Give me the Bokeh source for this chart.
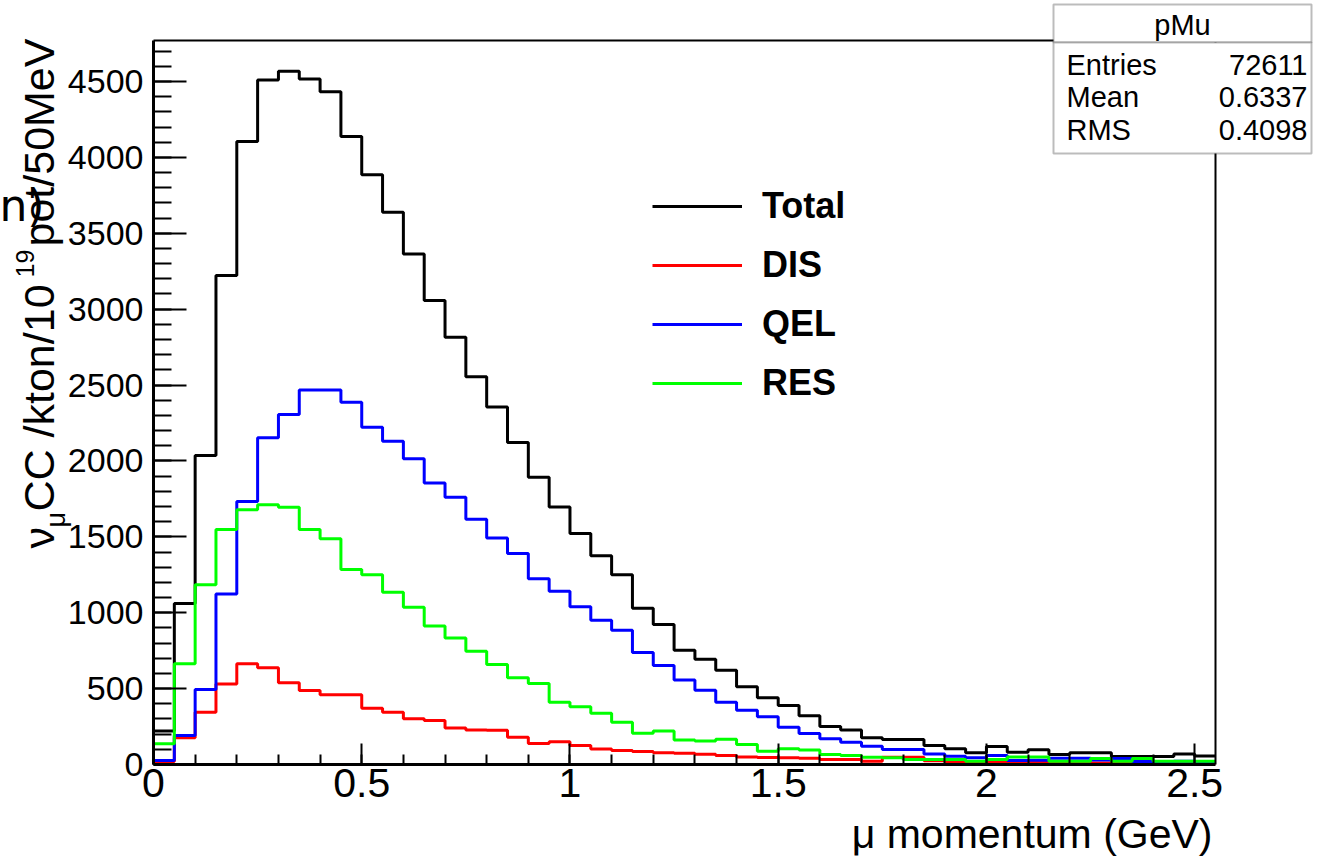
import math
from bokeh.plotting import figure
from bokeh.models import FixedTicker, Label, Legend, LegendItem, PolyAnnotation, Range1d, LinearAxis
from bokeh.embed import file_html
from bokeh.resources import INLINE

# ---------------- data (50 MeV bins, 0 .. 2.55 GeV) ----------------
bin_width = 0.05
n_bins = 51

total = [220, 1060, 2035, 3221, 4104, 4510, 4567, 4517, 4433, 4137,
         3885, 3639, 3364, 3057, 2815, 2555, 2356, 2121, 1893, 1697,
         1522, 1376, 1250, 1030, 922, 752, 694, 621, 513, 439,
         389, 322, 250, 228, 176, 165, 165, 125, 103, 77,
         118, 81, 97, 66, 77, 77, 53, 53, 53, 70, 56]

dis = [20, 176, 345, 531, 663, 637, 538, 487, 459, 459,
       371, 345, 301, 290, 240, 228, 225, 180, 138, 150,
       125, 102, 92, 86, 78, 74, 68, 60, 50, 46,
       44, 42, 33, 33, 22, 48, 48, 25, 20, 20,
       18, 16, 16, 12, 12, 10, 16, 8, 8, 8, 8]

qel = [26, 191, 494, 1124, 1733, 2152, 2306, 2468, 2468, 2387,
       2222, 2130, 2014, 1855, 1761, 1615, 1493, 1390, 1223, 1142,
       1039, 951, 884, 738, 653, 556, 489, 410, 357, 315,
       245, 205, 169, 147, 121, 99, 99, 70, 55, 44,
       59, 26, 28, 42, 42, 30, 40, 20, 18, 22, 15]

res = [136, 663, 1184, 1548, 1678, 1711, 1695, 1548, 1487, 1285,
       1250, 1135, 1036, 912, 834, 746, 659, 571, 533, 410,
       381, 337, 279, 206, 220, 161, 155, 167, 132, 88,
       103, 95, 66, 59, 48, 44, 33, 33, 33, 22,
       33, 50, 50, 22, 22, 40, 22, 40, 22, 22, 22]

series_names = ["Total", "DIS", "QEL", "RES"]
series_colors = ["#000000", "#ff0000", "#0000ff", "#00ff00"]

x_ticks = [0, 0.5, 1, 1.5, 2, 2.5]
x_tick_labels = ["0", "0.5", "1", "1.5", "2", "2.5"]
y_ticks = [0, 500, 1000, 1500, 2000, 2500, 3000, 3500, 4000, 4500]
y_tick_labels = ["0", "500", "1000", "1500", "2000", "2500", "3000", "3500", "4000", "4500"]

stats_title = "pMu"
stats_names = ["Entries", "Mean", "RMS"]
stats_values = ["72611", "0.6337", "0.4098"]

# ---------------- layout ----------------
W, H = 1325, 861
FL, FR, FT, FB = 153, 1215, 40, 764          # axis box edges in pixels
XMAX = 2.55
YMAX = 4770
XS = XMAX / (FR - FL)        # data per pixel
YS = YMAX / (FB - FT)

def X(px):
    return (px - FL) * XS

def Y(py):
    return (FB - py) * YS

FONT = "Liberation Sans"

# the plot frame spans the whole canvas; axes are pinned at data locations
p = figure(width=W, height=H,
           x_range=Range1d(X(0), X(W)), y_range=Range1d(Y(H), Y(0)),
           output_backend="svg", toolbar_location=None,
           min_border=0, min_border_left=0, min_border_right=0,
           min_border_top=0, min_border_bottom=0)
p.xgrid.visible = False
p.ygrid.visible = False
p.outline_line_color = None
p.background_fill_color = "white"
p.border_fill_color = "white"

edges = [round(i * bin_width, 4) for i in range(n_bins + 1)]
renderers = []
for vals, col in zip([total, dis, qel, res], series_colors):
    r = p.step(x=edges, y=list(vals) + [vals[-1]], mode="after",
               line_color=col, line_width=3)
    renderers.append(r)

# x axis
xa = p.xaxis[0]
xa.fixed_location = 0
xa.bounds = (0, XMAX)
xa.ticker = FixedTicker(ticks=x_ticks,
                        minor_ticks=[round(i * 0.1, 2) for i in range(26)])
xa.major_label_overrides = {t: l for t, l in zip(x_ticks, x_tick_labels)}
xa.major_tick_in = 21
xa.major_tick_out = 0
xa.minor_tick_in = 10
xa.minor_tick_out = 0
xa.axis_line_width = 3
xa.major_tick_line_width = 2
xa.minor_tick_line_width = 2
xa.major_label_text_font = FONT
xa.major_label_text_font_size = "41px"
xa.major_label_text_color = "black"
xa.major_label_standoff = 4

# y axis
ya = p.yaxis[0]
ya.fixed_location = 0
ya.bounds = (0, YMAX)
ya.ticker = FixedTicker(ticks=y_ticks, minor_ticks=list(range(0, 4800, 100)))
ya.major_label_overrides = {t: l for t, l in zip(y_ticks, y_tick_labels)}
ya.major_tick_in = 33
ya.major_tick_out = 0
ya.minor_tick_in = 18
ya.minor_tick_out = 0
ya.axis_line_width = 3
ya.major_tick_line_width = 2
ya.minor_tick_line_width = 2
ya.major_label_text_font = FONT
ya.major_label_text_font_size = "34px"
ya.major_label_text_color = "black"
ya.major_label_standoff = 10

# top and right frame lines
for loc, fixed, bnds in [("above", YMAX, (0, XMAX)), ("right", XMAX, (0, YMAX))]:
    ax = LinearAxis(fixed_location=fixed, bounds=bnds, ticker=FixedTicker(ticks=[]),
                    major_tick_in=0, major_tick_out=0, minor_tick_in=0, minor_tick_out=0,
                    major_label_text_font_size="0px", axis_line_width=2,
                    axis_line_color="black")
    p.add_layout(ax, loc)

# legend
legend = Legend(items=[LegendItem(label=n, renderers=[r]) for n, r in zip(series_names, renderers)],
                location=(652, H - 404), orientation="vertical",
                glyph_width=90, glyph_height=40, label_height=40, spacing=17,
                padding=0, margin=0, label_standoff=20,
                border_line_color=None, background_fill_alpha=0,
                label_text_font=FONT, label_text_font_style="bold",
                label_text_font_size="36px", label_text_color="black")
p.add_layout(legend)

# x axis title (right aligned, cap-middle at y=833)
p.add_layout(Label(x=X(1212), y=Y(833), text="μ momentum (GeV)", text_align="right",
                   text_baseline="middle", text_font=FONT, text_font_size="41px",
                   text_color="black"))

# y axis title (rotated, with sub/superscripts); first number = x of text middle
rot = math.pi / 2
for txt, mid_px, start_py, size in [("ν", 38, 548, "43px"),
                                    ("μ", 55, 527, "27px"),
                                    ("CC /kton/10", 38, 511, "43px"),
                                    ("19", 24, 277, "25px"),
                                    ("pot/50MeV", 38, 246, "43px")]:
    p.add_layout(Label(x=X(mid_px), y=Y(start_py), text=txt, angle=rot,
                       text_align="left", text_baseline="middle",
                       text_font=FONT, text_font_size=size, text_color="black"))

# stray fragment at left edge
p.add_layout(Label(x=X(44), y=Y(205), text="n)", text_align="right",
                   text_baseline="middle", text_font="DejaVu Sans",
                   text_font_size="44px", text_color="black"))

# stats box
bl, br, bt, bm, bb = 1053, 1311, 4, 42, 153
p.add_layout(PolyAnnotation(xs=[X(bl), X(br), X(br), X(bl)], ys=[Y(bt), Y(bt), Y(bm), Y(bm)],
                            fill_color="white", fill_alpha=1, line_color="#222222", line_width=2))
p.add_layout(PolyAnnotation(xs=[X(bl), X(br), X(br), X(bl)], ys=[Y(bm), Y(bm), Y(bb), Y(bb)],
                            fill_color="white", fill_alpha=1, line_color="#222222", line_width=2))
p.add_layout(Label(x=X((bl + br) / 2), y=Y(24), text=stats_title, text_align="center",
                   text_baseline="middle", text_font=FONT, text_font_size="29px",
                   text_color="black"))
for i, (nm, v) in enumerate(zip(stats_names, stats_values)):
    yy = Y(64 + 32.5 * i)
    p.add_layout(Label(x=X(1066), y=yy, text=nm, text_align="left", text_baseline="middle",
                       text_font=FONT, text_font_size="29px", text_color="black"))
    p.add_layout(Label(x=X(1307), y=yy, text=v, text_align="right", text_baseline="middle",
                       text_font=FONT, text_font_size="29px", text_color="black"))

open("out.html", "w").write(file_html(p, INLINE))
